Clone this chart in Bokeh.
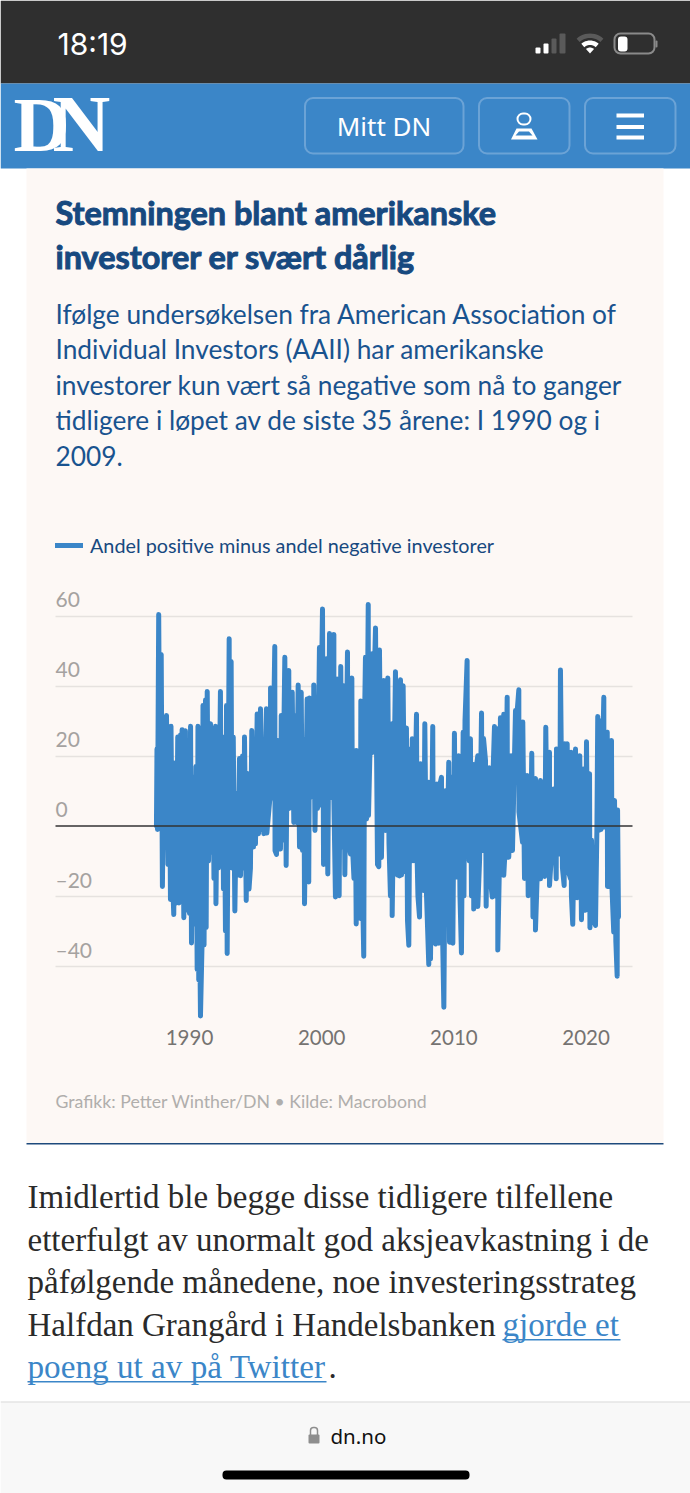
import math
from bokeh.plotting import figure
from bokeh.embed import file_html
from bokeh.resources import INLINE
from bokeh.core.properties import value
from bokeh.models import (Label, BoxAnnotation, PolyAnnotation, Range1d, FixedTicker, Grid,
                          Legend, LegendItem, ColumnDataSource, LinearAxis)

years = [
1987.50,1987.54,1987.58,1987.67,1987.76,1987.86,1987.95,1988.07,1988.18,1988.26,1988.37,1988.48,1988.56,1988.60,1988.71,1988.81,1988.90,1989.01,1989.11,1989.20,1989.32,1989.39,1989.44,1989.57,1989.69,1989.81,1989.92,1990.00,1990.08,1990.15,1990.26,1990.38,1990.49,1990.58,1990.64,1990.70,1990.72,1990.83,1990.97,1991.02,
1991.10,1991.21,1991.26,1991.34,1991.44,1991.59,1991.63,1991.78,1991.85,1991.97,1992.00,1992.12,1992.19,1992.34,1992.38,1992.50,1992.57,1992.61,1992.72,1992.80,1992.85,1993.00,1993.03,1993.15,1993.21,1993.31,1993.43,1993.56,1993.67,1993.78,1993.86,1994.01,1994.12,1994.16,1994.29,1994.39,1994.50,1994.61,1994.71,1994.84,1994.94,1994.99,1995.12,1995.22,1995.37,1995.48,
1995.60,1995.62,1995.82,1995.85,1996.13,1996.13,1996.28,1996.45,1996.47,1996.58,1996.68,1996.81,1996.88,1996.94,1997.03,1997.21,1997.31,1997.41,1997.51,1997.53,1997.77,1997.77,1997.89,1997.94,1998.09,1998.22,1998.32,1998.45,1998.55,1998.65,1998.70,1998.90,1999.02,1999.08,1999.10,1999.40,1999.40,1999.49,1999.66,1999.68,1999.83,1999.85,
2000.06,2000.14,2000.25,2000.29,2000.36,2000.46,2000.59,2000.61,2000.92,2000.92,2001.04,2001.17,2001.32,2001.44,2001.53,2001.67,2001.75,2001.95,2001.99,2002.18,2002.28,2002.33,2002.44,2002.52,2002.61,2002.61,2002.78,2002.93,2002.96,2003.05,2003.18,2003.24,2003.31,2003.39,2003.52,2003.54,2003.82,2003.84,2004.07,2004.22,2004.32,2004.37,2004.52,2004.70,2004.83,2005.00,2005.09,2005.20,2005.33,2005.33,2005.58,2005.62,2005.73,2005.81,2005.88,2005.96,2006.04,2006.16,2006.30,2006.41,2006.49,2006.59,2006.68,2006.79,2006.85,2006.97,2007.17,2007.21,2007.28,2007.40,2007.47,2007.59,2007.72,2007.80,2007.93,2008.10,2008.10,2008.23,2008.40,2008.46,2008.61,2008.72,2008.86,2008.95,2009.06,2009.10,2009.24,2009.36,2009.44,2009.61,2009.67,2009.78,2009.92,
2010.04,2010.12,2010.25,2010.37,2010.46,2010.57,2010.70,2010.76,2010.84,2011.00,2011.02,2011.16,2011.25,2011.33,2011.50,2011.50,2011.63,2011.81,2011.81,2011.94,2012.09,2012.14,2012.24,2012.39,2012.44,2012.54,2012.69,2012.73,2012.90,2012.96,2013.07,2013.11,2013.32,2013.32,2013.45,2013.52,2013.64,2013.77,2013.77,2013.90,2014.03,2014.05,2014.15,2014.33,2014.43,2014.66,2014.73,2014.91,2014.92,2015.19,2015.21,2015.34,2015.54,2015.62,2015.72,2015.79,2015.89,2015.98,2016.06,2016.17,2016.17,2016.32,2016.55,2016.55,2016.70,2016.87,2016.95,2017.08,2017.23,2017.23,2017.38,2017.55,2017.74,2017.76,2017.91,2018.01,2018.06,2018.21,2018.34,2018.37,2018.52,2018.57,2018.64,2018.82,2018.87,2018.89,2018.99,2019.20,2019.23,2019.33,2019.46,2019.52,2019.65,2019.78,2019.88,2019.95,2020.03,2020.14,2020.26,2020.29,2020.41,2020.56,2020.71,2020.82,2020.88,2020.96,2021.09,2021.13,2021.34,2021.35,2021.54,2021.60,2021.62,2021.77,2021.92,2021.96,2022.09,2022.15,2022.25,2022.35,2022.38,2022.45]

spread = [
0,22,-1,60.4,3,49,-17.3,26,-3,31.6,-11,27,-21,28.5,-14,-25.3,18,-22,25.4,-22,26,-20,27.5,-26.2,27.2,-24,20,-25,28.5,-33.4,14,-28,17,-41,28.5,-44,-10,-54.3,-30,34.4,
-34,36,-29,38.4,-10,29.2,-7.5,24,-15,28.5,-22.2,18,-12,38.4,-6.5,22,-18,25.4,-30,34.4,-36.4,53.5,-11,47,-12,25.4,-24.3,9.3,-14,19.3,-14.2,20,-12,25.4,-21.3,15,-18,-12,27.3,-6,24.4,-5.1,32,-2.2,33.5,-1,
24.4,-2.2,33.5,-2,10,39.4,8,51.3,-7,-8.1,24.4,-4,-6.6,31.6,-4,48.2,-11.3,30,44.4,5,8,38.2,1,31.6,1,40.3,-6,38.2,-7,24.7,-22.2,36.3,-16,36.6,8,10,40.3,-1.3,36.6,5,51,6,
62,-11,40,-9,47.8,-13.7,55,8,54.7,8,-20.3,42,-19.9,45.6,-6,40.1,-13.9,49.7,-4,-8,42.3,-6,-15,20,-28,21.6,-20,-26.4,35.7,-10,-37.2,30,48.2,2,63.3,3,49.2,21,56.6,-11,-11.6,50.3,-9,41.6,-1.3,42.3,-5,-20,29.2,-25.6,44.1,-12,-14,40,-14.3,41.8,-14,40.1,-13,28,-27,-34.1,22,-10,24.9,-9.9,31.9,-8,-20,-26,17.8,-15,-18.4,29.2,-20,-39.6,12.5,-38,28.4,-33,-33.7,12,-33.5,12,13.9,-22,-51.8,10.1,-20,18.2,-33.2,14,-33.5,
26.5,-10,-14.6,20.1,-20,-36.3,26.8,-20,30,47.3,8,-10,24.9,-20,17.6,-23.7,15,20.1,-23,-10,32.3,-7,25,18.7,-22.9,14,16.6,-14,-20.3,15,28.4,-20,27.8,-35.4,-10,30.9,-5,31.9,-14.1,-5,36.8,-8.9,-8.9,20.1,-7,33,30,38.9,4,-4.6,29.7,-15,14.4,-19.9,10,-8,20.8,-26,13,13.5,-29.7,-12,13,-15.1,10,-14.4,28.2,-12,21.1,-17,-8,10.6,-15.1,22,-8,-6.5,44.6,-12,-17,23.5,-8,23.5,-12.7,-15,21.1,-20,-28.1,22,-15,-20.5,15,20.1,-26.8,16.3,-15,-24.1,24.1,-20,14.9,-29.1,-4,-27,-28.4,0,31.3,-1.3,30,-1,36.8,-0.3,26,26.8,-17.3,-17.3,24.4,-18,-30.3,7.3,-33,-42.9,4.6,-26]

n = min(len(years), len(spread))
years = years[:n]
spread = spread[:n]

x_ticks = [1990, 2000, 2010, 2020]
y_ticks = [60, 40, 20, 0, -20, -40]
y_tick_labels = ["60", "40", "20", "0", "–20", "–40"]
series_name = "Andel positive minus andel negative investorer"

title_lines = ["Stemningen blant amerikanske", "investorer er svært dårlig"]
sub_lines = ["Ifølge undersøkelsen fra American Association of",
             "Individual Investors (AAII) har amerikanske",
             "investorer kun vært så negative som nå to ganger",
             "tidligere i løpet av de siste 35 årene: I 1990 og i",
             "2009."]
source_line = "Grafikk: Petter Winther/DN • Kilde: Macrobond"
body_lines = ["Imidlertid ble begge disse tidligere tilfellene",
              "etterfulgt av unormalt god aksjeavkastning i de",
              "påfølgende månedene, noe investeringsstrateg",
              "Halfdan Grangård i Handelsbanken"]

BLUE = "#3b86c8"
NAVY = "#17497f"
SANS = "Lato"
SERIF = "Liberation Serif"

# the plot area fills the whole page, so that the page furniture can sit round the chart
p = figure(width=690, height=1493, output_backend="svg", toolbar_location=None,
           x_axis_type=None, y_axis_type=None,
           x_range=Range1d(1975.703, 2027.897), y_range=Range1d(-190.714, 235.857),
           min_border=0, outline_line_color=None, background_fill_color="#ffffff",
           border_fill_color="#ffffff")
p.styles = {"position": "absolute", "left": "0px", "top": "0px"}
plot_left, plot_right = 1979.864, 2023.51


def box(l, t, r, b, color, radius=0, line=None, lw=1, alpha=1.0, level="image"):
    p.add_layout(BoxAnnotation(left=l, right=r, top=t, bottom=b,
                               left_units="canvas", right_units="canvas",
                               top_units="canvas", bottom_units="canvas",
                               fill_color=color, fill_alpha=alpha if color else 0,
                               line_color=line, line_width=lw, line_alpha=1 if line else 0,
                               border_radius=radius, level=level, editable=False))


def poly(xs, ys, color):
    p.add_layout(PolyAnnotation(xs=xs, ys=ys, xs_units="canvas", ys_units="canvas",
                                fill_color=color, fill_alpha=1, line_color=None, level="image"))


def label(x, y, text, size, color, font=SANS, style="normal", align="left", **kw):
    p.add_layout(Label(x=x, y=y, x_units="canvas", y_units="canvas", text=text,
                       text_font=font, text_font_size=f"{size}px", text_color=color,
                       text_font_style=style, text_align=align, text_baseline="alphabetic", **kw))


def wifi_band(r0, r1, color):
    a = [math.radians(-42 + 84 * i / 12) for i in range(13)]
    xs = [589.5 + r1 * math.sin(t) for t in a] + [589.5 + r0 * math.sin(t) for t in reversed(a)]
    ys = [53 - r1 * math.cos(t) for t in a] + [53 - r0 * math.cos(t) for t in reversed(a)]
    poly(xs, ys, color)


# page chrome
box(0, 0, 690, 83, "#2f2f2f")
box(0, 83, 690, 168, BLUE)
box(26, 168, 663, 1143, "#fdf8f5")
box(26, 1142.5, 663, 1144, "#1e4a7c")
box(0, 1402, 690, 1493, "#f8f8f8")
box(0, 1401, 690, 1402, "#d8d8d8")

# status bar
label(57, 43, "18:19", 30, "#ffffff", font="Inter")
box(535, 47, 540, 53, "#ffffff", radius=1)
box(543, 43, 548, 53, "#ffffff", radius=1)
box(551, 38, 556, 53, "#5a5a5a", radius=1)
box(559, 33, 565, 53, "#5a5a5a", radius=1)
wifi_band(15.5, 20, "#5a5a5a")
wifi_band(8.5, 13, "#ffffff")
wifi_band(0, 6, "#ffffff")
box(614, 33, 654, 53, None, radius=6, line="#8a8a8a", lw=2)
box(617.5, 36, 627, 51, "#ffffff", radius=3)
box(655, 40, 657, 47, "#8a8a8a", radius=1)

# site header
label(13, 124, "D", 78, "#ffffff", font=SERIF, style="bold")
label(52, 123.4, "N", 80, "#ffffff", font=SERIF, style="bold")
box(304.5, 97.5, 463, 153, None, radius=8, line="#6ba3d6", lw=2)
box(478.5, 97.5, 569, 153, None, radius=8, line="#6ba3d6", lw=2)
box(584.5, 97.5, 675, 153, None, radius=8, line="#6ba3d6", lw=2)
label(383.5, 125, "Mitt DN", 26, "#ffffff", font="Noto Sans", align="center")
box(517, 113, 530, 124, None, radius=6, line="#ffffff", lw=2)
poly([516, 531, 537, 510.5], [128, 128, 139, 139], "#ffffff")
poly([518.5, 528.5, 532, 515], [131, 131, 135, 135], BLUE)
box(616, 113, 643.5, 117, "#ffffff")
box(616, 124.5, 643.5, 128.5, "#ffffff")
box(616, 135, 643.5, 139, "#ffffff")

# headline block
label(55, 211.5, title_lines[0], 32.4, NAVY, style="bold", text_outline_color=NAVY)
label(55, 255.5, title_lines[1], 32.4, NAVY, style="bold", text_outline_color=NAVY)
for line, base in zip(sub_lines, [313.3, 348.3, 384.3, 419.3, 455]):
    label(55, base, line, 26.3, "#19538f")

# the chart
xaxis = LinearAxis(ticker=FixedTicker(ticks=x_ticks), fixed_location=-55.86,
                   axis_line_color=None, major_tick_line_color=None, minor_tick_line_color=None,
                   major_label_text_font=SANS, major_label_text_font_size="20.5px",
                   major_label_text_color="#757371", major_label_standoff=2)
p.add_layout(xaxis, "below")
yaxis = LinearAxis(ticker=FixedTicker(ticks=y_ticks), visible=False)
p.add_layout(yaxis, "left")
p.add_layout(Grid(dimension=1, axis=yaxis, ticker=FixedTicker(ticks=[t for t in y_ticks if t != 0]),
                  grid_line_color="#e6e2df", grid_line_width=1.5,
                  cross_bounds=(plot_left, plot_right)))

line = p.line(years, spread, line_color=BLUE, line_width=5, line_cap="round", line_join="round")
p.segment(x0=[plot_left], x1=[plot_right], y0=[0], y1=[0], line_color="#333333", line_width=1.5)

label_lift = 4.7  # y-axis labels sit just over their gridlines
tick_src = ColumnDataSource(dict(x=[plot_left] * len(y_ticks), y=[t + label_lift for t in y_ticks],
                                 t=y_tick_labels))
p.text("x", "y", text="t", source=tick_src, text_font=value(SANS), text_font_size="21px",
       text_color="#a5a2a0", text_baseline="alphabetic")

legend = Legend(items=[LegendItem(label=series_name, renderers=[line])],
                location=(55, 936), background_fill_alpha=0, border_line_alpha=0,
                margin=0, padding=0, glyph_width=28, glyph_height=20, label_standoff=7,
                label_text_font=SANS, label_text_font_size="19.8px", label_text_color=NAVY)
p.add_layout(legend)

# below the chart
label(55, 1101, source_line, 17.7, "#b0aeac")
for line_text, base in zip(body_lines, [1196, 1239, 1281, 1324]):
    label(27, base, line_text, 33, "#2a2a2a", font=SERIF)
label(502, 1324, "gjorde et", 33, BLUE, font=SERIF)
box(502, 1338.5, 620, 1340, BLUE)
label(27, 1366, "poeng ut av på Twitter", 33.2, BLUE, font=SERIF)
box(27, 1380.5, 326, 1382, BLUE)
label(328, 1366, ".", 33, "#2a2a2a", font=SERIF)

# browser bar
box(308, 1434, 319, 1443, "#8e8e8e", radius=1)
box(310, 1427, 317, 1437, None, radius=3, line="#8e8e8e", lw=1.5)
label(330, 1435, "dn.no", 20.5, "#111111", font="Noto Sans")
box(222, 1470, 469, 1479, "#000000", radius=4)

open("out.html", "w").write(file_html(p, INLINE))
